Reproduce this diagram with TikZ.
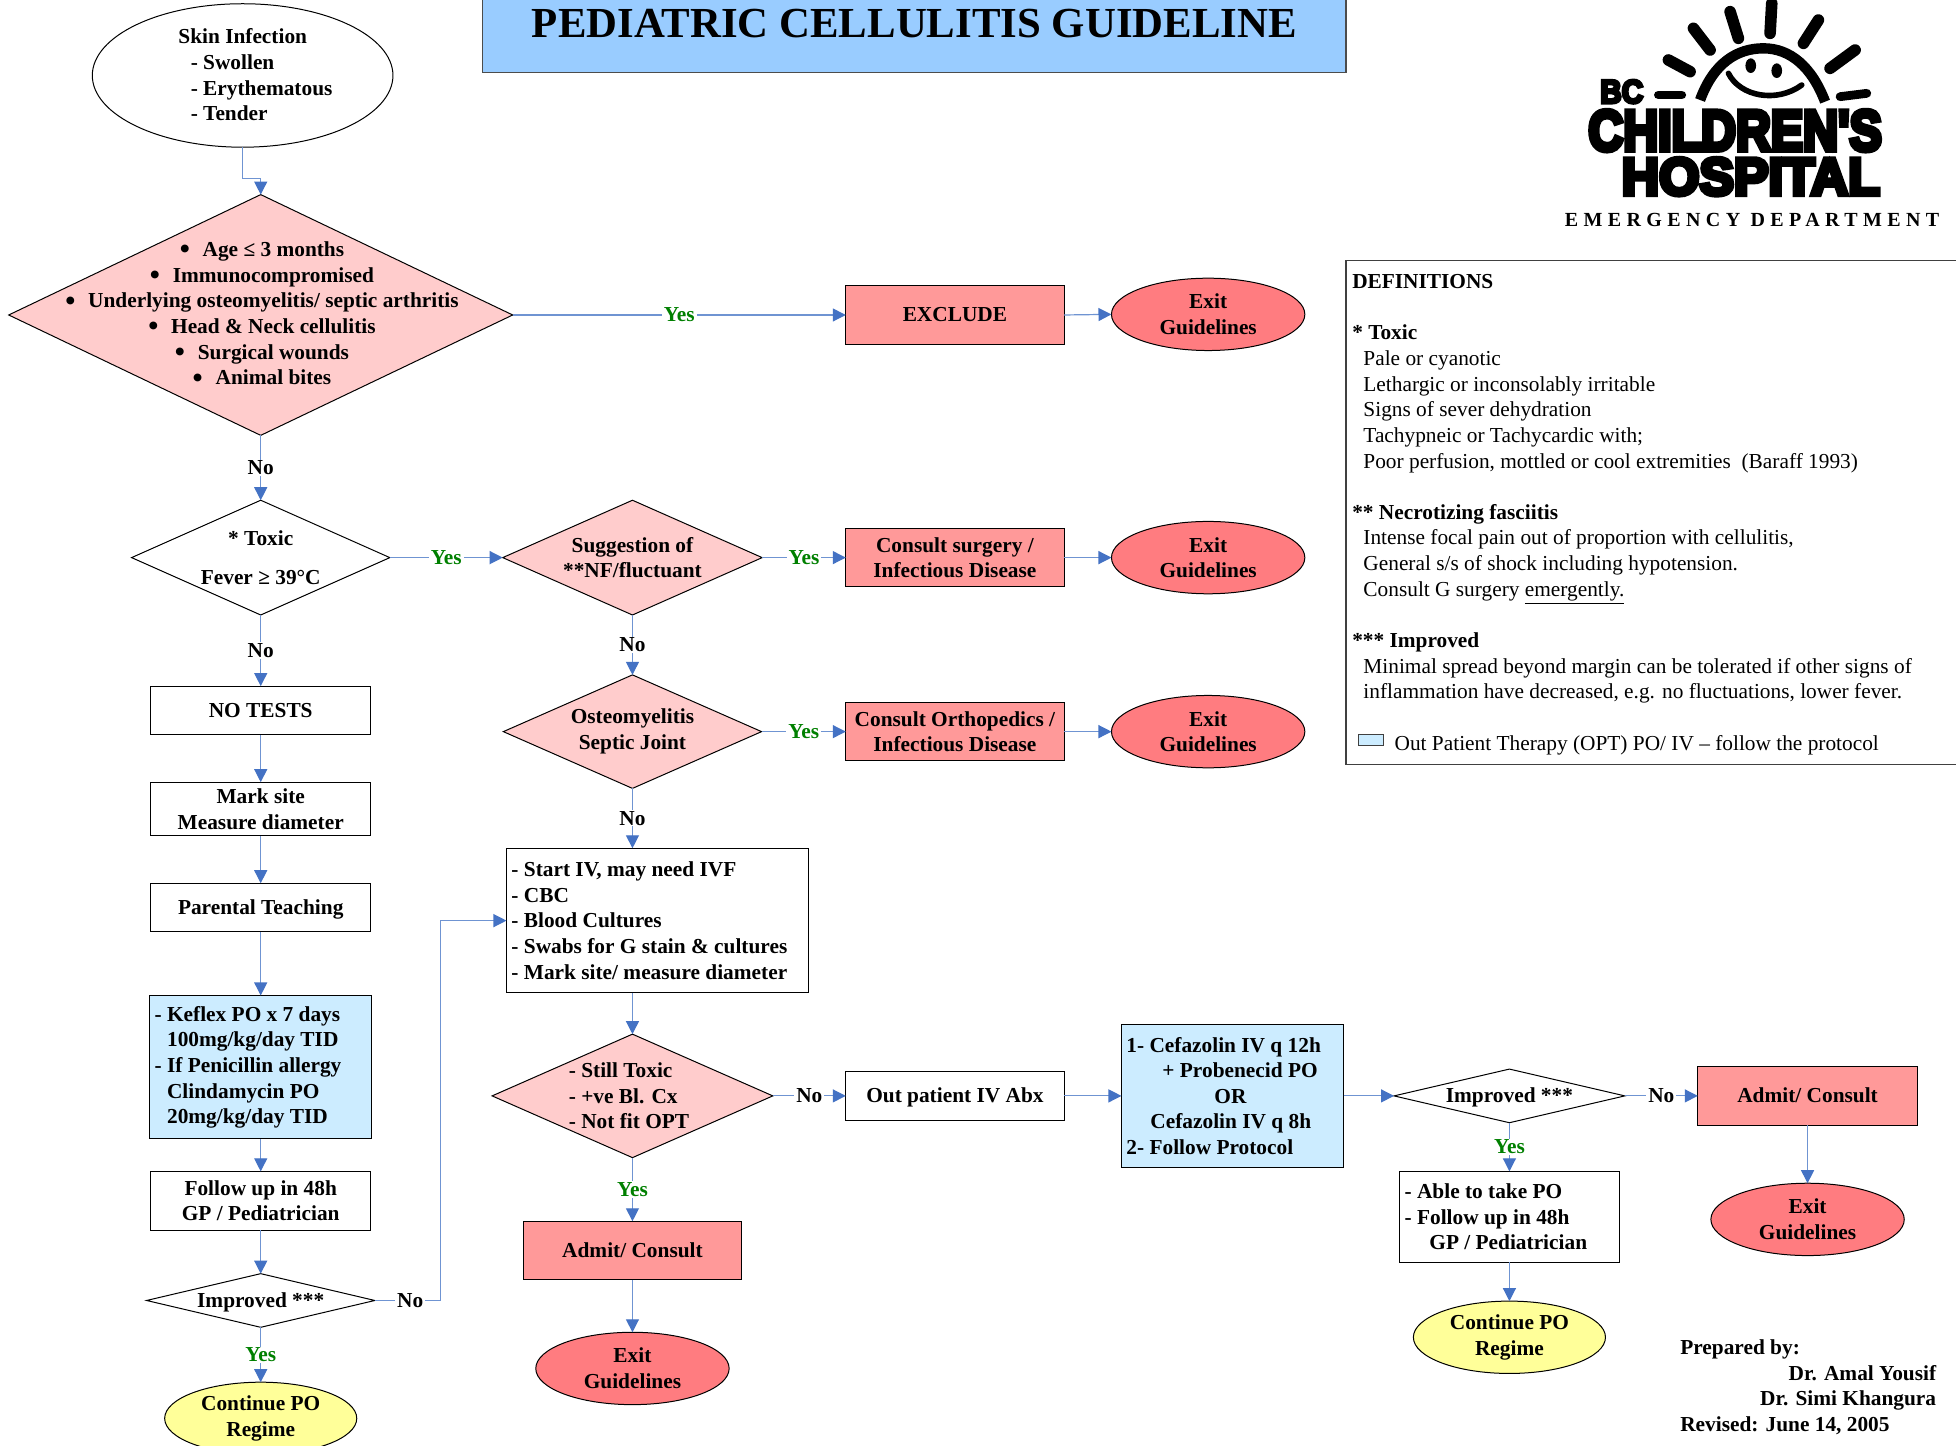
\documentclass[tikz,border=0pt]{standalone}
\usepackage{fontspec}
\usepackage{graphicx}
\setmainfont{Liberation Serif}
\newfontfamily\logofont[FakeBold=9]{Liberation Sans Bold}
\usetikzlibrary{shapes.geometric,arrows.meta}
\definecolor{conn}{HTML}{6F94D2}
\definecolor{tip}{HTML}{4472C4}
\definecolor{pink}{HTML}{FFCCCC}
\definecolor{salmon}{HTML}{FF9999}
\definecolor{exitred}{HTML}{FF7C80}
\definecolor{optblue}{HTML}{CCECFF}
\definecolor{cont}{HTML}{FFFF99}
\definecolor{titleblue}{HTML}{99CCFF}
\definecolor{yesgreen}{HTML}{008000}
\newcommand{\fs}{\fontsize{10.67}{12.82}\selectfont}
\newcommand{\bul}{\raisebox{-1.2pt}{\scalebox{1.35}{\textbullet}}\hspace{6.4pt}}
\tikzset{
  x=0.6237pt,y=-0.6237pt,
  every node/.style={font=\fs\bfseries,inner sep=0pt,outer sep=0pt},
  dim/.style n args={2}{minimum width=#1*0.6237pt,minimum height=#2*0.6237pt},
  sl/.style={text height=7pt,text depth=0pt},
  bx/.style={draw=black,line width=0.5pt,rectangle,align=flush center},
  plainbox/.style={bx,fill=white},
  redbox/.style={bx,fill=salmon},
  leftbox/.style={bx,align=flush left,text width=(#1-8)*0.6237pt,inner xsep=4*0.6237pt},
  exitnode/.style={draw=black,line width=0.5pt,ellipse,fill=exitred,align=flush center,minimum width=155*0.6237pt,minimum height=58*0.6237pt},
  contnode/.style={draw=black,line width=0.5pt,ellipse,fill=cont,align=flush center,minimum width=154*0.6237pt,minimum height=58*0.6237pt},
  dia/.style={draw=black,line width=0.5pt,diamond},
  conn/.style={draw=conn,line width=0.6pt,-{Triangle[length=6.5pt,width=6.5pt,fill=tip,color=tip]}},
  lab/.style={fill=white,inner xsep=1pt,inner ysep=0.5pt,text=black},
  yes/.style={lab,text=yesgreen},
  ray/.style={line width=5.8pt,line cap=round,draw=black},
}
\begin{document}
\begin{tikzpicture}
\useasboundingbox (0,0) rectangle (1568,1159);
\fill[white] (0,0) rectangle (1568,1159);

% title
\node[draw=black!70,fill=titleblue,dim={692}{70},line width=0.6pt] (titlebox) at (733,23) {};
\node[font=\fontsize{21.4}{24}\selectfont\bfseries] (titletext) at (733,19) {PEDIATRIC CELLULITIS GUIDELINE};

% logo
\begin{scope}[shift={(1202.5,0)},x=0.16667pt,y=-0.16667pt]
  \draw[ray,line width=4.4pt] (475,285)--(545,285);
  \draw[ray] (505,180)--(570,215);
  \draw[ray] (580,85)--(630,150);
  \draw[ray] (690,35)--(715,115);
  \draw[ray] (815,10)--(810,100);
  \draw[ray] (955,60)--(910,130);
  \draw[ray] (1065,150)--(990,205);
  \draw[ray,line width=4.4pt] (1020,290)--(1100,280);
  \draw[ray,line width=5.2pt,line cap=butt] (600,300) .. controls (640,190) and (710,145) .. (790,145) .. controls (870,145) and (935,200) .. (975,305);
  \draw[line width=2.8pt,line cap=round] (685,220) .. controls (720,290) and (830,310) .. (905,255);
  \fill (752,197) ellipse [x radius=16,y radius=22];
  \fill (830,212) ellipse [x radius=16,y radius=22];
  \node[inner sep=0pt] (logobc) at (365,275) {\resizebox{21.5pt}{11.5pt}{\logofont BC}};
  \node[inner sep=0pt] (logoch) at (705,392) {\resizebox{146.7pt}{20pt}{\logofont CHILDREN'S}};
  \node[inner sep=0pt] (logoho) at (752,530) {\resizebox{129pt}{18.3pt}{\logofont HOSPITAL}};
\end{scope}
\node[font=\fontsize{10}{12}\selectfont\bfseries\addfontfeature{LetterSpace=27}] (dept) at (1404.5,176) {EMERGENCY DEPARTMENT};

% definitions
\node[draw=black!75,line width=0.6pt,rectangle,fill=white,dim={520}{404}] (defbox) at (1339,411) {};
\node[font=\fs,anchor=north west,align=flush left] (deftext) at (1084,220) {%
\textbf{DEFINITIONS}\\[0pt]
\mbox{}\\
\textbf{* Toxic}\\
\hspace*{5.6pt}Pale or cyanotic\\
\hspace*{5.6pt}Lethargic or inconsolably irritable\\
\hspace*{5.6pt}Signs of sever dehydration\\
\hspace*{5.6pt}Tachypneic or Tachycardic with;\\
\hspace*{5.6pt}Poor perfusion, mottled or cool extremities\ \ (Baraff 1993)\\
\mbox{}\\
\textbf{** Necrotizing fasciitis}\\
\hspace*{5.6pt}Intense focal pain out of proportion with cellulitis,\\
\hspace*{5.6pt}General s/s of shock including hypotension.\\
\hspace*{5.6pt}Consult G surgery \underline{emergently.}\\
\mbox{}\\
\textbf{*** Improved}\\
\hspace*{5.6pt}Minimal spread beyond margin can be tolerated if other signs of\\
\hspace*{5.6pt}inflammation have decreased, e.g. no fluctuations, lower fever.\\
\mbox{}\\
\hspace*{21.2pt}Out Patient Therapy (OPT) PO/ IV -- follow the protocol};
\node[draw=black!75,line width=0.5pt,fill=optblue,dim={20}{9}] (legend) at (1099,593.5) {};

% prepared
\node[anchor=north west,align=flush left] (prep) at (1347,1074) {%
Prepared by:\\
\makebox[127.9pt][r]{Dr. Amal Yousif}\\
\makebox[127.9pt][r]{Dr. Simi Khangura}\\
Revised: June 14, 2005};

% left column
\node[draw=black,line width=0.5pt,ellipse,fill=white,dim={241}{115}] (skin) at (194.5,60.5) {};
\node[anchor=west,align=flush left] (skintext) at (143,60) {Skin Infection\\
\hspace*{6.2pt}- Swollen\\\hspace*{6.2pt}- Erythematous\\\hspace*{6.2pt}- Tender};

\node[dia,fill=pink,dim={404}{193}] (d1) at (209,252.5) {};
\node[align=flush center] (d1text) at (210,252) {%
\bul Age ≤ 3 months\\
\bul Immunocompromised\\
\bul Underlying osteomyelitis/ septic arthritis\\
\bul Head \& Neck cellulitis\\
\bul Surgical wounds\\
\bul Animal bites};

\node[redbox,dim={175}{47}] (excl) at (765.5,252.5) {EXCLUDE};
\node[exitnode] (exit1) at (968.5,252) {Exit\\Guidelines};

\node[dia,fill=white,dim={207}{92}] (d2) at (209,447) {};
\node[align=flush center] (d2text) at (209,447) {* Toxic\\[6.5pt]Fever ≥ 39°C};

\node[dia,fill=pink,dim={208}{92}] (d3) at (507,447) {};
\node[align=flush center] (d3text) at (507,447) {Suggestion of\\**NF/fluctuant};
\node[redbox,dim={175}{47}] (surg) at (765.5,447) {Consult surgery /\\Infectious Disease};
\node[exitnode] (exit2) at (968.5,447) {Exit\\Guidelines};

\node[dia,fill=pink,dim={207}{91}] (d4) at (507,586.5) {};
\node[align=flush center] (d4text) at (507,586.5) {Osteomyelitis\\Septic Joint};
\node[redbox,dim={175}{47}] (orth) at (765.5,586.5) {Consult Orthopedics /\\Infectious Disease};
\node[exitnode] (exit3) at (968.5,586.5) {Exit\\Guidelines};

\node[plainbox,sl,dim={176}{39}] (notests) at (209,569.5) {NO TESTS};
\node[plainbox,dim={176}{43}] (mark) at (209,648.5) {Mark site\\Measure diameter};
\node[plainbox,sl,dim={176}{39}] (teach) at (209,727.5) {Parental Teaching};
\node[leftbox=178,fill=optblue,dim={178}{115}] (kef) at (209,855.5) {%
- Keflex PO x 7 days\\\hspace*{6.2pt}100mg/kg/day TID\\- If Penicillin allergy\\\hspace*{6.2pt}Clindamycin PO\\\hspace*{6.2pt}20mg/kg/day TID};
\node[plainbox,dim={176}{47}] (fu) at (209,962.5) {Follow up in 48h\\GP / Pediatrician};
\node[dia,fill=white,dim={183}{43}] (d7) at (209,1042.5) {};
\node[sl] (d7text) at (209,1042.5) {Improved ***};
\node[contnode] (cont1) at (209,1137) {Continue PO\\Regime};
\coordinate (turn) at (353,1042.5);

\node[leftbox=242,fill=white,dim={242}{116}] (start) at (527,738) {%
- Start IV, may need IVF\\- CBC\\- Blood Cultures\\- Swabs for G stain \& cultures\\- Mark site/ measure diameter};

\node[dia,fill=pink,dim={225}{99}] (d5) at (507,878.5) {};
\node[anchor=west,align=flush left] (d5text) at (456,878.5) {- Still Toxic\\- +ve Bl. Cx\\- Not fit OPT};
\node[redbox,sl,dim={175}{47}] (adm1) at (507,1002.5) {Admit/ Consult};
\node[exitnode] (exit4) at (507,1097) {Exit\\Guidelines};

\node[plainbox,sl,dim={175}{39}] (opiv) at (765.5,878.5) {Out patient IV Abx};
\node[leftbox=178,fill=optblue,dim={178}{115}] (cef) at (988,878.5) {%
1- Cefazolin IV q 12h\\\hspace*{18pt}+ Probenecid PO\\\hspace*{44pt}OR\\\hspace*{12pt}Cefazolin IV q 8h\\2- Follow Protocol};
\node[dia,fill=white,dim={185}{43}] (d6) at (1210,878.5) {};
\node[sl] (d6text) at (1210,878.5) {Improved ***};
\node[redbox,sl,dim={176}{47}] (adm2) at (1449,878.5) {Admit/ Consult};
\node[exitnode] (exit5) at (1449,977.5) {Exit\\Guidelines};
\node[leftbox=176,fill=white,dim={176}{73}] (able) at (1210,975.5) {%
- Able to take PO\\- Follow up in 48h\\\hspace*{12.4pt}GP / Pediatrician};
\node[contnode] (cont2) at (1210,1072) {Continue PO\\Regime};

% connectors
\draw[conn] (skin.south) -- ++(0,25) -| (d1.north);
\draw[conn] (d1.east) -- node[yes]{Yes} (excl.west);
\draw[conn] (excl.east) -- (exit1.west);
\draw[conn] (d1.south) -- node[lab]{No} (d2.north);
\draw[conn] (d2.east) -- node[yes]{Yes} (d3.west);
\draw[conn] (d3.east) -- node[yes]{Yes} (surg.west);
\draw[conn] (surg.east) -- (exit2.west);
\draw[conn] (d3.south) -- node[lab]{No} (d4.north);
\draw[conn] (d4.east) -- node[yes]{Yes} (orth.west);
\draw[conn] (orth.east) -- (exit3.west);
\draw[conn] (d4.south) -- node[lab]{No} (d4.south |- start.north);
\draw[conn] (d2.south) -- node[lab]{No} (notests.north);
\draw[conn] (notests.south) -- (mark.north);
\draw[conn] (mark.south) -- (teach.north);
\draw[conn] (teach.south) -- (kef.north);
\draw[conn] (kef.south) -- (fu.north);
\draw[conn] (fu.south) -- (d7.north);
\draw[conn] (d7.south) -- node[yes]{Yes} (cont1.north);
\draw[conn] (d7.east) -- node[lab,pos=0.54]{No} (turn) |- (start.west);
\draw[conn] (d5.north |- start.south) -- (d5.north);
\draw[conn] (d5.south) -- node[yes]{Yes} (adm1.north);
\draw[conn] (adm1.south) -- (exit4.north);
\draw[conn] (d5.east) -- node[lab]{No} (opiv.west);
\draw[conn] (opiv.east) -- (cef.west);
\draw[conn] (cef.east) -- (d6.west);
\draw[conn] (d6.east) -- node[lab]{No} (adm2.west);
\draw[conn] (adm2.south) -- (exit5.north);
\draw[conn] (d6.south) -- node[yes]{Yes} (able.north);
\draw[conn] (able.south) -- (cont2.north);
\end{tikzpicture}
\end{document}
